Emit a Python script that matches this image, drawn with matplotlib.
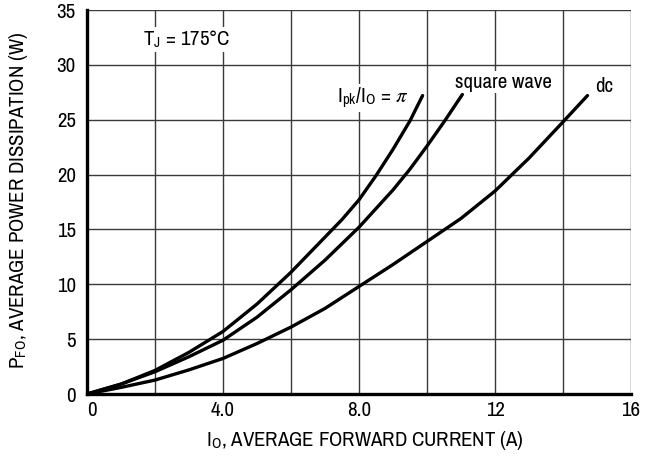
import matplotlib
matplotlib.use("Agg")
import matplotlib.pyplot as plt
from matplotlib import font_manager

# ---- data ----
pi_x = [0, 1, 2, 3, 4, 5, 6, 7, 7.5, 8, 8.5, 9, 9.5, 9.87]
pi_y = [0, 0.9, 2.15, 3.8, 5.7, 8.2, 11.1, 14.3, 15.9, 17.7, 19.9, 22.3, 24.9, 27.2]

sq_x = [0, 1, 2, 3, 4, 5, 6, 7, 8, 9, 9.5, 10, 10.5, 11.04]
sq_y = [0, 0.9, 2.03, 3.4, 4.9, 7.0, 9.5, 12.2, 15.2, 18.6, 20.5, 22.6, 24.8, 27.3]

dc_x = [0, 1, 2, 3, 4, 5, 6, 7, 8, 9, 10, 11, 12, 13, 14, 14.72]
dc_y = [0, 0.6, 1.27, 2.2, 3.24, 4.6, 6.1, 7.8, 9.8, 11.8, 13.9, 16.0, 18.5, 21.5, 24.8, 27.2]

x_ticks = [0, 4, 8, 12, 16]
x_ticklabels = ["0", "4.0", "8.0", "12", "16"]
y_ticks = [0, 5, 10, 15, 20, 25, 30, 35]
y_ticklabels = ["0", "5", "10", "15", "20", "25", "30", "35"]

# ---- fonts ----
avail = {f.name for f in font_manager.fontManager.ttflist}
fam = "Archivo Narrow" if "Archivo Narrow" in avail else "Liberation Sans"
plt.rcParams["font.family"] = [fam, "Liberation Sans", "DejaVu Sans"]
plt.rcParams["mathtext.fontset"] = "stix"

FS = 15

fig = plt.figure(figsize=(6.57, 4.66), dpi=100)
ax = fig.add_axes([87 / 657, 1 - 394 / 466, (631 - 87) / 657, (394 - 10) / 466])

ax.set_xlim(0, 16)
ax.set_ylim(0, 35)

# grid every 2 A and 5 W
for gx in range(2, 17, 2):
    ax.axvline(gx, color="#3a3a3a", lw=1.0, zorder=1)
for gy in range(5, 36, 5):
    ax.axhline(gy, color="#3a3a3a", lw=1.0, zorder=1)

ax.set_xticks(x_ticks)
ax.set_xticklabels(x_ticklabels)
ax.set_yticks(y_ticks)
ax.set_yticklabels(y_ticklabels)
ax.tick_params(length=0, labelsize=FS)
ax.tick_params(axis="y", pad=8)
ax.tick_params(axis="x", pad=5)
ax.get_xticklabels()[0].set_horizontalalignment("left")

for s in ["top", "right"]:
    ax.spines[s].set_visible(False)
for s in ["left", "bottom"]:
    ax.spines[s].set_linewidth(2.4)
    ax.spines[s].set_color("black")
    ax.spines[s].set_zorder(5)

lw = 2.4
for xs, ys in [(pi_x, pi_y), (sq_x, sq_y), (dc_x, dc_y)]:
    ax.plot(xs, ys, color="black", lw=lw, solid_capstyle="round",
            solid_joinstyle="round", zorder=4)

box = dict(facecolor="white", edgecolor="none", pad=1.0)
ax.text(1.65, 32.3, r"T$_\mathregular{J}$ = 175°C", fontsize=FS, ha="left", va="center",
        bbox=box, zorder=3)
ax.text(9.45, 27.0, r"I$_\mathregular{pk}$/I$_\mathregular{O}$ = $\pi$", fontsize=FS,
        ha="right", va="center", bbox=box, zorder=3)
ax.text(12.25, 28.4, "square wave", fontsize=FS, ha="center", va="center",
        bbox=box, zorder=3)
ax.text(15.2, 28.0, "dc", fontsize=FS, ha="center", va="center", bbox=box, zorder=3)

ax.set_xlabel(r"I$_\mathregular{O}$, AVERAGE FORWARD CURRENT (A)", fontsize=FS)
ax.set_ylabel(r"P$_\mathregular{FO}$, AVERAGE POWER DISSIPATION (W)", fontsize=FS)
ax.xaxis.set_label_coords((365 - 87) / 544, (394 - 440) / 384)
ax.xaxis.label.set_va("center")
ax.yaxis.set_label_coords((18 - 87) / 544, (394 - 200) / 384)
ax.yaxis.label.set_va("center")

fig.savefig("out.png", dpi=100)
